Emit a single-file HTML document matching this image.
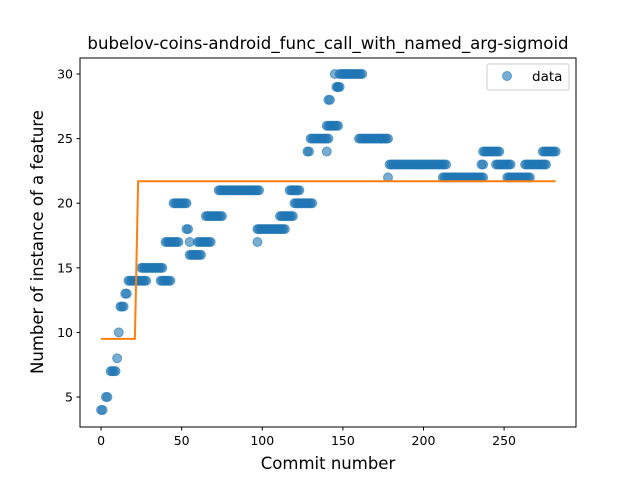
<!DOCTYPE html>
<html><head><meta charset="utf-8"><style>
body{margin:0;background:#fff;}
svg text{font-family:"DejaVu Sans","Liberation Sans",sans-serif;}
</style></head><body>
<svg id="chart" width="640" height="480" viewBox="0 0 640 480" xmlns="http://www.w3.org/2000/svg">
<rect width="640" height="480" fill="#fff"/>
<text x="328" y="49" font-size="16.6" text-anchor="middle">bubelov-coins-android_func_call_with_named_arg-sigmoid</text>
<g id="plot"></g>
<g id="axes"></g>
<text x="328" y="469" font-size="16.5" text-anchor="middle">Commit number</text>
<text transform="translate(43,242) rotate(-90)" font-size="16.5" text-anchor="middle">Number of instance of a feature</text>
<g>
<rect x="487" y="64" width="82" height="26" rx="2" fill="#fff" stroke="#ccc" stroke-width="1"/>
<circle cx="507" cy="76" r="4.5" fill="#1f77b4" fill-opacity="0.6" stroke="#1f77b4" stroke-opacity="0.6"/>
<text x="532" y="81" font-size="13.5">data</text>
</g>
</svg>
<script>
// data runs: consecutive commit numbers from segStart..segEnd share value segValue
const segStart = [0,3,6,10,11,12,15,17,25,37,40,45,53,55,55,60,65,73,97,97,111,117,120,128,130,140,140,141,145,146,148,147,160,178,179,212,236,237,245,252,263,274];
const segEnd   = [1,4,9,10,11,14,16,28,38,43,48,53,54,55,62,68,75,98,97,114,119,123,131,129,141,140,147,142,145,148,162,147,178,178,214,237,237,247,254,266,276,282];
const segValue = [4,5,7,8,10,12,13,14,15,14,17,20,18,17,16,17,19,21,17,18,19,21,20,24,25,24,26,28,30,29,30,29,25,22,23,22,23,24,23,22,23,24];
const fitX = [0,21,23,282];
const fitY = [9.5,9.5,21.7,21.7];
const xTicks = [0,50,100,150,200,250];
const yTicks = [5,10,15,20,25,30];

const L=80,R=576,T=58,B=427;
const xMin=-13.05,xMax=294.6,yMin=2.68,yMax=31.24;
const sx=v=>L+(v-xMin)/(xMax-xMin)*(R-L);
const sy=v=>B-(v-yMin)/(yMax-yMin)*(B-T);
const NS='http://www.w3.org/2000/svg';
const plot=document.getElementById('plot'),axes=document.getElementById('axes');
function mk(tag,attrs,parent){const e=document.createElementNS(NS,tag);for(const k in attrs)e.setAttribute(k,attrs[k]);parent.appendChild(e);return e;}
for(let s=0;s<segStart.length;s++){
  for(let x=segStart[s];x<=segEnd[s];x++){
    const c=mk('circle',{cx:sx(x),cy:sy(segValue[s]),r:4.5,fill:'#1f77b4','fill-opacity':0.6,stroke:'#1f77b4','stroke-opacity':0.6,'stroke-width':1},plot);
    
    
  }
}
const pts=fitX.map((x,i)=>sx(x)+','+sy(fitY[i])).join(' ');
const fl=mk('polyline',{points:pts,fill:'none',stroke:'#ff7f0e','stroke-width':2},plot);


const fr=mk('rect',{x:L,y:T,width:R-L,height:B-T,fill:'none',stroke:'#000','stroke-width':1},axes);


xTicks.forEach(v=>{
  const t=mk('line',{x1:sx(v),x2:sx(v),y1:B,y2:B+3.5,stroke:'#000'},axes);
  
  
  const l=mk('text',{x:sx(v),y:B+18,'font-size':12.5,'text-anchor':'middle'},axes);
  l.textContent=v;
  
  
});
yTicks.forEach(v=>{
  const t=mk('line',{x1:L-3.5,x2:L,y1:sy(v),y2:sy(v),stroke:'#000'},axes);
  
  
  const l=mk('text',{x:L-7,y:sy(v)+4.5,'font-size':12.5,'text-anchor':'end'},axes);
  l.textContent=v;
  
  
});
</script>
</body></html>
